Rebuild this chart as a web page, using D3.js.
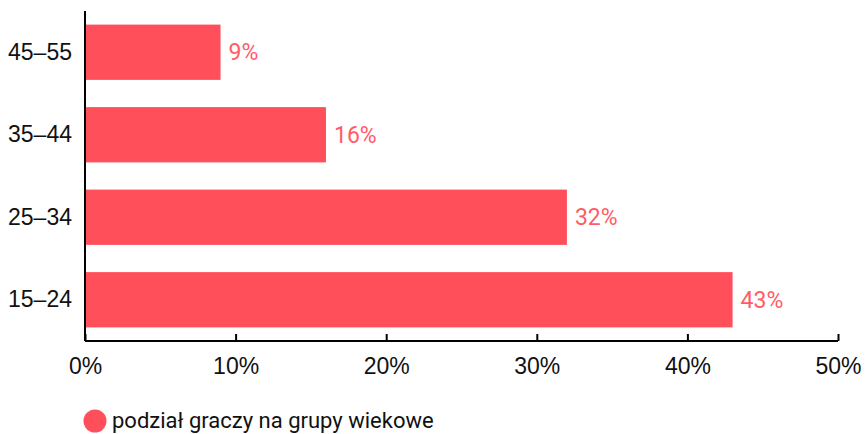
<!DOCTYPE html>
<meta charset="utf-8">
<style>
    body { margin: 0; background: #fff; }
    svg { font-family: Roboto, "Noto Sans", sans-serif; }
    .axis path, .axis line { stroke: #000; stroke-width: 2px; }
    .axis text { font-size: 23px; fill: #111; }
</style>
<svg width="865" height="434"></svg>
<script src="https://d3js.org/d3.v7.min.js"></script>
<script>
    var groups = ['15–24', '25–34', '35–44', '45–55'];
    var shares = [43, 32, 16, 9];
    var xTicks = [0, 10, 20, 30, 40, 50];
    var seriesName = 'podział graczy na grupy wiekowe';

    var svg = d3.select('svg');
    var margin = {left: 85, top: 11, right: 27, bottom: 93};
    var width = +svg.attr('width') - margin.left - margin.right;
    var height = +svg.attr('height') - margin.top - margin.bottom;
    var g = svg.append('g')
        .attr('transform', `translate(${margin.left}, ${margin.top})`);

    var x = d3.scaleLinear().domain([0, 50]).range([0, width]);
    var y = d3.scaleBand().domain(groups.slice().reverse()).range([0, height]).paddingInner(0.33).paddingOuter(0.165);

    var data = groups.map(function (d, i) { return {group: d, value: shares[i]}; });

    g.selectAll('.bar')
        .data(data)
        .enter()
        .append('rect')
        .attr('class', 'bar')
        .attr('x', 0)
        .attr('y', function (d) { return y(d.group); })
        .attr('width', function (d) { return x(d.value); })
        .attr('height', y.bandwidth())
        .attr('fill', '#ff4f5a');

    g.selectAll('.lbl')
        .data(data)
        .enter()
        .append('text')
        .attr('class', 'lbl')
        .attr('x', function (d) { return x(d.value) + 8; })
        .attr('y', function (d) { return y(d.group) + y.bandwidth() / 2; })
        .attr('dy', '0.35em')
        .attr('fill', '#ff5c66')
        .style('font-size', '23px')
        .text(function (d) { return d.value + '%'; });

    var xAxis = g.append('g')
        .attr('class', 'axis')
        .attr('transform', `translate(0, ${height})`)
        .call(d3.axisBottom(x).tickValues(xTicks).tickSize(-7).tickSizeOuter(0).tickPadding(17)
            .tickFormat(function (d) { return d + '%'; }));
    xAxis.select('.domain').attr('d', `M0,0H${width}`);

    var yAxis = g.append('g')
        .attr('class', 'axis')
        .call(d3.axisLeft(y).tickSize(0).tickPadding(13));
    yAxis.select('.domain').attr('d', `M0,0V${height}`);

    var legend = svg.append('g').attr('transform', 'translate(95, 421)');
    legend.append('circle').attr('r', 11.5).attr('fill', '#ff4f5a');
    legend.append('text')
        .attr('x', 17)
        .attr('dy', '0.33em')
        .style('font-size', '22px')
        .attr('fill', '#111')
        .text(seriesName);
</script>
